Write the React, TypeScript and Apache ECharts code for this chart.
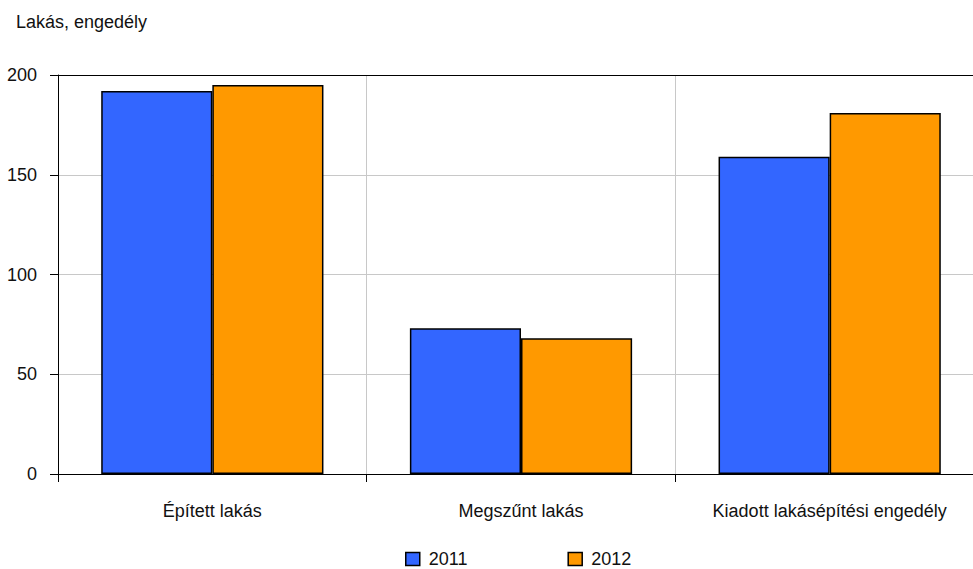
import React, { useEffect, useRef } from "react";
import * as echarts from "echarts";

const categories = ["Épített lakás", "Megszűnt lakás", "Kiadott lakásépítési engedély"];
const seriesNames = ["2011", "2012"];
const values2011 = [192, 73, 159];
const values2012 = [195, 68, 181];
const yTicks = { min: 0, max: 200, interval: 50 };

const FONT = "'Liberation Sans', Arial, sans-serif";

export default function App() {
  const ref = useRef<HTMLDivElement>(null);
  useEffect(() => {
    if (!ref.current) return;
    const chart = echarts.init(ref.current, undefined, { renderer: "svg" });
    chart.setOption({
      animation: false,
      backgroundColor: "#ffffff",
      textStyle: { fontFamily: FONT, color: "#000" },
      title: {
        text: "Lakás, engedély",
        left: 16,
        top: 13,
        padding: 0,
        textStyle: { fontFamily: FONT, fontSize: 18, fontWeight: "normal", color: "#111" },
      },
      legend: {
        data: seriesNames,
        left: 405,
        top: 550,
        padding: 0,
        itemWidth: 14,
        itemHeight: 13,
        itemGap: 100,
        icon: "rect",
        itemStyle: { borderColor: "#000", borderWidth: 1.5 },
        textStyle: { fontFamily: FONT, fontSize: 18, color: "#111", padding: [0, 0, 0, 4] },
      },
      grid: {
        left: 58,
        top: 75,
        width: 926,
        height: 399,
        containLabel: false,
        outerBoundsMode: "none",
      },
      xAxis: [
        {
          type: "category",
          data: categories,
          position: "bottom",
          boundaryGap: true,
          axisLine: { show: true, lineStyle: { color: "#000", width: 1 } },
          axisTick: { show: true, length: 8, lineStyle: { color: "#000" } },
          axisLabel: { margin: 28, fontSize: 18, color: "#111", fontFamily: FONT },
          splitLine: { show: true, lineStyle: { color: "#c8c8c8", width: 1 } },
        },
        {
          type: "category",
          data: categories,
          position: "top",
          axisLine: { show: true, lineStyle: { color: "#000", width: 1 } },
          axisTick: { show: false },
          axisLabel: { show: false },
          splitLine: { show: false },
        },
      ],
      yAxis: {
        type: "value",
        min: yTicks.min,
        max: yTicks.max,
        interval: yTicks.interval,
        axisLine: { show: true, lineStyle: { color: "#000", width: 1 } },
        axisTick: { show: true, length: 8, lineStyle: { color: "#000" } },
        axisLabel: { margin: 21, fontSize: 18, color: "#111", fontFamily: FONT },
        splitLine: { show: true, lineStyle: { color: "#c8c8c8", width: 1 } },
      },
      series: [
        {
          name: seriesNames[0],
          type: "bar",
          data: values2011,
          barGap: "0%",
          barCategoryGap: "28%",
          itemStyle: { color: "#3366FF", borderColor: "#000", borderWidth: 1.5 },
        },
        {
          name: seriesNames[1],
          type: "bar",
          data: values2012,
          barGap: "0%",
          barCategoryGap: "28%",
          itemStyle: { color: "#FF9900", borderColor: "#000", borderWidth: 1.5 },
        },
      ],
    });
    return () => chart.dispose();
  }, []);
  return (
    <div
      ref={ref}
      style={{ position: "absolute", left: 0, top: 0, width: 973, height: 569, overflow: "hidden" }}
    />
  );
}
